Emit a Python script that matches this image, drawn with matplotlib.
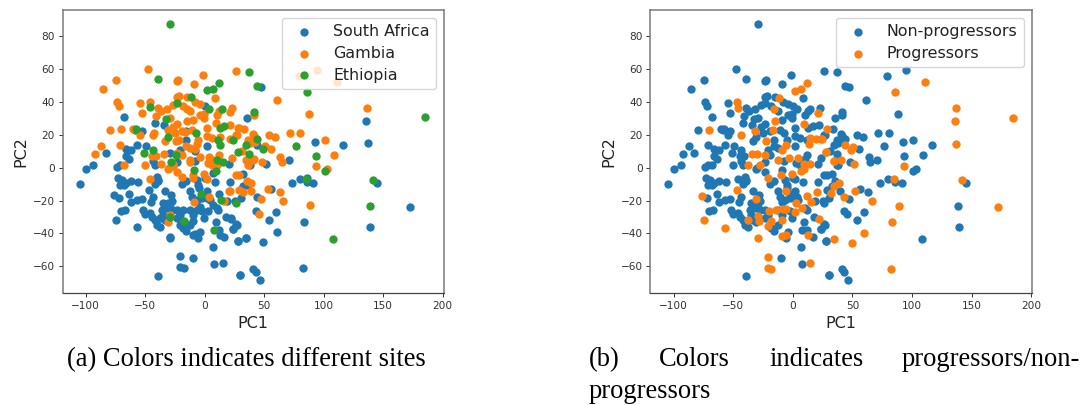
import numpy as np
import matplotlib
matplotlib.use("Agg")
import matplotlib.pyplot as plt

W, H = 1083, 405

south_africa = [
(-67.5,30.9),(-83,9.1),(-41.7,27.4),(-34,26),(-58.5,22.8),(-53,22.6),(-66.4,11.7),(-62.2,11),(-56.6,14),(-49.6,13.4),
(-66,7),(-64,5.5),(-43.7,3.9),(-41.7,1.4),(-29,9),(-20.7,11),(-23,3.3),(-16,22.6),(-16,17),(0,37.4),(2.2,13),(-7.8,4.3),
(35.3,30.5),(20.7,2.2),(32.5,-3.7),(-8,10),(47,49),(135.8,28.5),(92.7,15.7),(116.5,14),(137,15),(44,14),(70.8,4.7),(51.5,2.4),(38,1.4),
(73,-9.4),(80,-6.7),(86.2,-6.3),(85.7,-8.7),(91.3,-9.4),(144.8,-9.5),(172.2,-23.6),(138.9,-35.8),(83.5,-33),(59.9,-26.8),(54,-31.9),
(43,-26.4),(60.5,-39.4),(34.4,-42.7),(49.3,-45),(28,-44.5),(26.3,-34.4),(24,-37.2),(22,-31),(40.9,-61.4),(42.9,-63.4),(46.2,-68.5),
(29.9,-65.2),(82.3,-61),(56,-12.8),(43.7,-17.5),(30.5,-18.5),(25.5,-20.5),(32.5,-11.4),(35.3,-10.4),
(-104.5,-10),(-100,-0.8),(-93.8,1.6),(-73.4,0.4),(-71,1.8),(-72.5,-6.3),(-69.5,-7.7),(-66,-9),(-71,-10.4),(-67.8,-10.2),(-61.6,-8.3),(-55.7,-8.5),
(-40,-5.7),(-39.5,-7.3),(-39,-8.3),(-41.7,-9.8),(-46.8,-13.4),(-63.3,-16),(-76.5,-16.5),(-72,-18.7),(-62.2,-21),(-56.6,-19.5),(-52.4,-19),
(-33.3,-14.2),(-28,-16.7),(-43.7,-17.5),(-45.4,-21),(-70.6,-26.4),(-66.7,-25.8),(-74.2,-31.5),(-56.6,-36.2),(-51.5,-25.6),(-50,-28),(-46,-27.6),
(-44.5,-30),(-41.7,-31.7),(-40.3,-34.8),(-38,-36.2),(-34.7,-21.5),(-30.5,-21.5),(-27.7,-20.5),(-36,-25.6),(-32,-24.6),(-27.7,-25.6),(-34.7,-28.6),
(-37.5,-30.7),(-33.3,-31.7),(-29,-23.6),(-23.5,-25.6),(-18,-25.6),(-12.3,-25.6),(-6.7,-25.6),(-4,-23.6),(-2.5,-26.6),(-9.5,-28.6),(-20.7,-28.6),
(-23.5,-30.7),(-20.7,-34.8),(-18,-36.8),(-15.7,-38.4),(-12.3,-34.8),(-9.5,-32.7),(-16.5,-33.7),(-29.4,-41.9),(-29.4,-42.9),(-8.4,-40.2),(-3.9,-39.2),
(-5.6,-43),(-9.5,-40.9),(-0.3,-30.7),(3,-26.6),(7.3,-22.6),(10,-24.6),(11.5,-25.6),(9.5,-32.9),(12,-37.8),(12.9,-40.9),(16.5,-41.9),(17.9,-29.7),
(21.8,-30.7),(26.9,-34.8),(24,-37.4),(28,-44.7),(34.7,-42.9),(7,-48),(-20.4,-54),(-10,-54.7),(-20.4,-60.6),(-17.6,-61.2),(-39.2,-66),(7.6,-58.7),
(15.4,-57.7),(30,-65),(-19.3,-9.8),(-16,-8.3),(-6.7,-7.3),(-5.3,-10.4),(-4.5,-12.4),(-12.3,-14.4),(-11,-17.9),(1.7,-14.4),(-6.7,-19.5),(-2.5,-18.5),
(1.7,-18.5),(4.5,-19.5),(12.3,-16),(18.5,-20.5),(21.3,-8.7),(7.3,-3.3),(8.7,-8.9),(0.3,-6.3),
]

gambia = [
(-85.7,48.2),(-74.5,53.3),(-47.3,59.8),(-74,40),(-72,37.4),(-79.8,23.2),(-70,23.8),(-60.2,23.6),(-87.4,13),(-91.9,8.3),(-71.4,14),(-54,39.2),
(-52.4,33.5),(-46.2,40),(-54.3,20),(-43,21.1),(-43.7,19.7),(-67.5,1.4),(-50,1.4),(-44.5,7.3),(-41,7),(-37,2),(-34,8.5),(-30,-0.2),(-27,2.4),
(-33.6,16.3),(-29,30),(-39.5,36.4),(-41,31.3),(-32,35.8),(-36.4,34.4),(-27,38.2),(-23.5,42.9),(-22,43.5),(-23.5,52.6),(-22.4,53.7),(-8.7,51),
(-1.7,56.5),(26.3,58.9),(-15,42.9),(-8,40),(-4,38.8),(8.7,42.3),(-18,37.4),(-15,35.8),(-12.3,34.4),(-14.6,28.7),(-9.5,29.3),(-4,32.3),(-0.6,32.7),
(-1,30.3),(10,32.3),(12.3,34.4),(23,36.4),(21.3,33.9),(41.5,32.3),(28.3,24.4),(33.3,23.6),(21.6,26),(9.2,27),(2.2,24.2),(-23.5,26.8),(-27,24.8),
(-31,22.8),(-11,23.2),(-19.3,22.2),(-16.5,21.5),(-25,21),(-24,16.5),(-22,17),(-5.3,17),(-6.7,14.6),(-15.7,13),(-12.3,12),(-8,11.6),(-23.5,9),
(-19,8),(-12.3,4.9),(-12.3,3.7),(-3.6,6.5),(3.6,6.3),(2.5,2.8),(4.5,2.8),(7.3,4.9),(12,7.5),(6.2,1.4),(10,1.4),(1.7,19.5),(5.9,18),(13,19),
(21.3,17.7),(26.3,19.7),(36.7,17),(41,19.5),(23.2,5.9),(34.7,4.9),(41,5.3),(36.7,1.4),
(79,56),(94.7,59.5),(110.9,52.2),(61,41),(87.9,33),(136.7,36.4),(53.7,20),(59,19),(71.4,21),(80.4,21),(101,16.7),(40.3,20.3),(29,24.2),(26.9,19.7),
(38,15),(42,15.4),(50.7,13.4),(55.7,11.6),(31,10),(40.9,4.9),(48,3.7),(63.6,6.5),(64.7,3.3),(108.9,7.5),(93.2,0.8),(103,-1),
(63,-14.6),(66,-20),(88.8,-22.6),(45.3,-28.2),(47.3,-18.9),(52.9,-13.2),(39.2,-14.2),(29,-13.8),(31.9,-15),(35.3,-8.3),(39,-9),(26.3,-4.7),(28.5,-4.7),
(21,-14.4),(-46.2,-7),(-30.5,-33),(-29,-28.7),(-8.7,-20.7),(3.6,-17.9),(20.2,-14.4),(16.2,-20),(-1,-3.7),(2.2,-6.7),(-9.5,-4.3),(-10,-6.3),
(-23.5,-2.8),(-19.3,-5.9),(-30.5,-0.8),(-26.3,0.8),
]

ethiopia = [
(-29.4,87.6),(-39.5,54.3),(11.8,51.8),(2.2,47.4),(7.3,48.2),(37,58),(43.7,49.6),(-11.5,43),(-23,39.2),(-45.7,36.8),(3.6,35.6),(14.6,36),(41,33.7),
(-32.5,29.9),(-57.4,23.6),(12.6,24),(16.5,25.2),(-7,21.1),(-30.8,18.7),(11.5,16.7),(12.9,13.8),(24,17),(43.7,17.7),(34.7,14),(-43.7,11),(-50.7,8.7),
(-23.8,7.7),(-28,3.5),(28,9.8),(37,8.3),(10.6,4.9),(15,3.3),(-8.7,-1.2),(9.8,-1.8),(49.3,11.6),(76.4,13),(93.2,6.9),(101,-1.9),(141,-7.3),(185,30.9),
(86,46.1),(26,-21.5),(85.4,-6.7),(138.6,-23.2),(108,-43.3),(-2.8,-16),(14,-19.9),(-29.4,-30),(-17.6,-32.5),(7.6,-37.6),
]

progressors = [
(11.7,51.7),(7,48),(2,47),(-11.5,42.4),(-46.4,40),(-45.8,36.6),(-15.4,35.6),(21.2,33.3),(-14.8,28.3),(9.2,26.5),(28.5,23.8),(-70.4,23.2),(-32,22.2),
(-16.8,23.2),(-43.3,20.2),(14.5,18.2),(19.8,17.8),(23.7,17.4),(13.4,14.7),(-22.3,16.2),(-6.1,14),(-9,10.7),(-34.6,8.5),(-29.9,8.5),(-23.7,7.5),
(27.9,9.5),(-3,6),(4.2,6),(-12.8,5),(34.4,4),(9.2,2),(14.8,2.4),(-37.4,1.8),(-27.7,1.6),(7,-2),(9.2,-1),(-0.6,-4),(-9.8,-4.4),(-20.7,-6),
(111.2,52.3),(86,46),(136.4,36.4),(135.8,28.5),(184.7,30.3),(136.9,14.5),(24.6,17.2),(43.6,14),(50.6,12.7),(49,11),(28,9.3),(34.4,4.4),(40.5,4.6),
(51.2,2),(93,1),(141.4,-7.3),(84.7,-6.8),(38.6,-9),(-76.5,-17.2),(-74.3,-31.7),(-56.7,-36.4),(-46.9,-13.5),(-30.7,-19.2),(-37.4,-31.7),(-29.3,-29.3),
(-28.5,-32.3),(-29.6,-42.8),(-20.7,-35.4),(-18.2,-32.7),(-8.9,-32),(-19.6,-26.3),(-14.5,-25.9),(-8.4,-25.3),(-5.6,-24.8),(-5.6,-14.1),(2.8,-21.2),
(2.2,-26.9),(7.3,-24.6),(12,-17.2),(15.6,-20.6),(20.4,-14.5),(13.1,-41),(-9.2,-41.4),(-6.1,-40.8),(-20.7,-54.5),(-21,-61),(-17.9,-61.6),(14.8,-58.2),
(22,-31.3),(34.4,-43.4),(31.6,-15.6),(34.9,-11),(172,-23.6),(88.6,-23.2),(83.3,-33),(60,-39.6),(49.2,-45.7),(81.9,-61.4),(66.5,-20),(43.3,-17.8),(52.3,-14),
]

all_samples = south_africa + gambia + ethiopia
non_progressors = [s for s in all_samples
                   if min((s[0]-p[0])**2 + (s[1]-p[1])**2 for p in progressors) > 2.0**2]

panel_a = [("South Africa", south_africa, "#1f77b4"), ("Gambia", gambia, "#ff7f0e"), ("Ethiopia", ethiopia, "#2ca02c")]
panel_b = [("Non-progressors", non_progressors, "#1f77b4"), ("Progressors", progressors, "#ff7f0e")]

xticks = [-100, -50, 0, 50, 100, 150, 200]
yticks = [-60, -40, -20, 0, 20, 40, 60, 80]

fig = plt.figure(figsize=(W/100, H/100), dpi=100)

def panel(x0, x1, y0, y1, series, xlim):
    ax = fig.add_axes([x0/W, 1-y1/H, (x1-x0)/W, (y1-y0)/H])
    for label, pts, col in series:
        ax.scatter([p[0] for p in pts], [p[1] for p in pts], s=36, c=col, linewidths=0, label=label)
    ax.set_xlim(*xlim); ax.set_ylim(-76.4, 96)
    ax.set_xticks(xticks); ax.set_yticks(yticks)
    ax.tick_params(labelsize=7.6, length=3, width=0.7, pad=2.5, colors="#333333")
    ax.set_xlabel("PC1", fontsize=11.5, labelpad=3.5, color="#222222")
    ax.set_ylabel("PC2", fontsize=11.5, labelpad=3, color="#222222")
    for k in ("top", "left", "right"):
        ax.spines[k].set_color("#7a7a7a"); ax.spines[k].set_linewidth(1.1)
    ax.spines["bottom"].set_color("#444444"); ax.spines["bottom"].set_linewidth(0.9)
    ax.legend(loc="upper right", fontsize=11.4, borderpad=0.4, labelspacing=0.42, markerscale=1.0,
              handletextpad=0.85, borderaxespad=0.5, framealpha=0.8, labelcolor="#222222")
    return ax

panel(62.5, 444, 10, 293.3, panel_a, (-119.5, 201))
panel(650.3, 1032, 10, 293.3, panel_b, (-119.5, 200.5))

serif = dict(family="Liberation Serif", fontsize=19.1, color="black", va="baseline", ha="left")
def cap(x, y, s):
    fig.text(x/W, 1-y/H, s, **serif)
cap(67, 366.5, "(a) Colors indicates different sites")
cap(589, 366.5, "(b)")
cap(659, 366.5, "Colors")
cap(769, 366.5, "indicates")
cap(902, 366.5, "progressors/non-")
cap(589, 398.5, "progressors")

fig.savefig("out.png", dpi=100)
